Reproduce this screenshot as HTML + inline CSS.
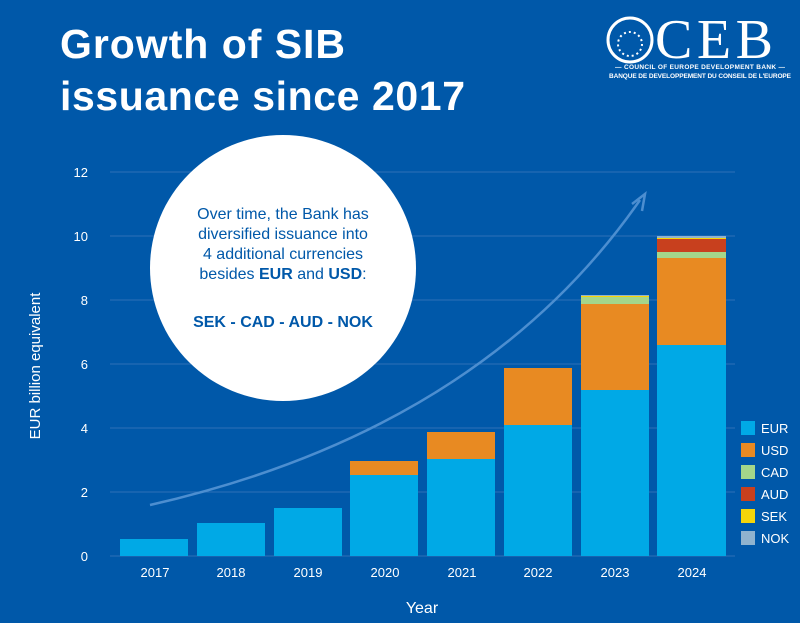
<!DOCTYPE html>
<html><head><meta charset="utf-8"><style>
body{margin:0;width:800px;height:618px;overflow:hidden;background:#0058a9;font-family:"Liberation Sans",sans-serif}
</style></head><body>
<svg width="800" height="618" xmlns="http://www.w3.org/2000/svg" font-family="Liberation Sans, sans-serif">
<rect width="800" height="618" fill="#0058a9"/>
<text x="60" y="58" fill="#fff" font-size="41" font-weight="bold" textLength="285">Growth of SIB</text>
<text x="60" y="110" fill="#fff" font-size="41" font-weight="bold" textLength="405">issuance since 2017</text>
<circle cx="630" cy="40" r="22" fill="none" stroke="#fff" stroke-width="3"/>
<circle cx="630" cy="44" r="12" fill="none" stroke="#fff" stroke-width="2" stroke-dasharray="2 3"/>
<text x="655" y="58" fill="#fff" font-size="56" font-family="Liberation Serif, serif" textLength="118">CEB</text>
<text x="700" y="69" fill="#fff" font-size="6.5" text-anchor="middle" font-weight="bold" textLength="170">— COUNCIL OF EUROPE DEVELOPMENT BANK —</text>
<text x="700" y="78" fill="#fff" font-size="6.5" text-anchor="middle" font-weight="bold" textLength="182">BANQUE DE DEVELOPPEMENT DU CONSEIL DE L'EUROPE</text>
<g stroke="#2e70b8" stroke-width="1">
<line x1="110" x2="735" y1="172" y2="172"/><line x1="110" x2="735" y1="236" y2="236"/><line x1="110" x2="735" y1="300" y2="300"/><line x1="110" x2="735" y1="364" y2="364"/><line x1="110" x2="735" y1="428" y2="428"/><line x1="110" x2="735" y1="492" y2="492"/><line x1="110" x2="735" y1="556" y2="556"/>
</g>
<g fill="#fff" font-size="13" text-anchor="end">
<text x="88" y="177">12</text><text x="88" y="241">10</text><text x="88" y="305">8</text><text x="88" y="369">6</text><text x="88" y="433">4</text><text x="88" y="497">2</text><text x="88" y="561">0</text>
</g>
<text transform="translate(40,366) rotate(-90)" fill="#fff" font-size="15" text-anchor="middle">EUR billion equivalent</text>
<path d="M150 505 Q480 430 640 200" fill="none" stroke="#4c8ed0" stroke-width="2.5"/>
<path d="M632 204 L645 194 L642 211" fill="none" stroke="#4c8ed0" stroke-width="2.5"/>
<g fill="#00a9e6">
<rect x="120" y="539" width="68" height="17"/><rect x="197" y="523" width="68" height="33"/><rect x="274" y="508" width="68" height="48"/>
<rect x="350" y="475" width="68" height="81"/><rect x="427" y="459" width="68" height="97"/><rect x="504" y="425" width="68" height="131"/><rect x="581" y="390" width="68" height="166"/><rect x="657" y="345" width="69" height="211"/>
</g>
<g fill="#e88a22">
<rect x="350" y="461" width="68" height="14"/><rect x="427" y="432" width="68" height="27"/><rect x="504" y="368" width="68" height="57"/><rect x="581" y="304" width="68" height="86"/><rect x="657" y="258" width="69" height="87"/>
</g>
<rect x="581" y="297" width="68" height="7" fill="#a4d68a"/><rect x="657" y="252" width="69" height="6" fill="#a4d68a"/>
<rect x="657" y="239" width="69" height="13" fill="#c8401e"/>
<rect x="581" y="296" width="68" height="1" fill="#f5d50a"/><rect x="657" y="238" width="69" height="1" fill="#f5d50a"/>
<rect x="581" y="295" width="68" height="1" fill="#8fb3cf"/><rect x="657" y="236" width="69" height="2" fill="#8fb3cf"/>
<g fill="#fff" font-size="13" text-anchor="middle">
<text x="155" y="577">2017</text><text x="231" y="577">2018</text><text x="308" y="577">2019</text><text x="385" y="577">2020</text><text x="462" y="577">2021</text><text x="538" y="577">2022</text><text x="615" y="577">2023</text><text x="692" y="577">2024</text>
</g>
<text x="422" y="613" fill="#fff" font-size="16" text-anchor="middle">Year</text>
<circle cx="283" cy="268" r="133" fill="#fff"/>
<g fill="#0058a9" font-size="16" text-anchor="middle">
<text x="283" y="219">Over time, the Bank has</text>
<text x="283" y="239">diversified issuance into</text>
<text x="283" y="259">4 additional currencies</text>
<text x="283" y="279">besides <tspan font-weight="bold">EUR</tspan> and <tspan font-weight="bold">USD</tspan>:</text>
<text x="283" y="327" font-weight="bold">SEK - CAD - AUD - NOK</text>
</g>
<g font-size="13" fill="#fff">
<rect x="741" y="421" width="14" height="14" fill="#00a9e6"/><text x="761" y="433">EUR</text>
<rect x="741" y="443" width="14" height="14" fill="#e88a22"/><text x="761" y="455">USD</text>
<rect x="741" y="465" width="14" height="14" fill="#a4d68a"/><text x="761" y="477">CAD</text>
<rect x="741" y="487" width="14" height="14" fill="#c8401e"/><text x="761" y="499">AUD</text>
<rect x="741" y="509" width="14" height="14" fill="#f5d50a"/><text x="761" y="521">SEK</text>
<rect x="741" y="531" width="14" height="14" fill="#8fb3cf"/><text x="761" y="543">NOK</text>
</g>
</svg>
</body></html>
